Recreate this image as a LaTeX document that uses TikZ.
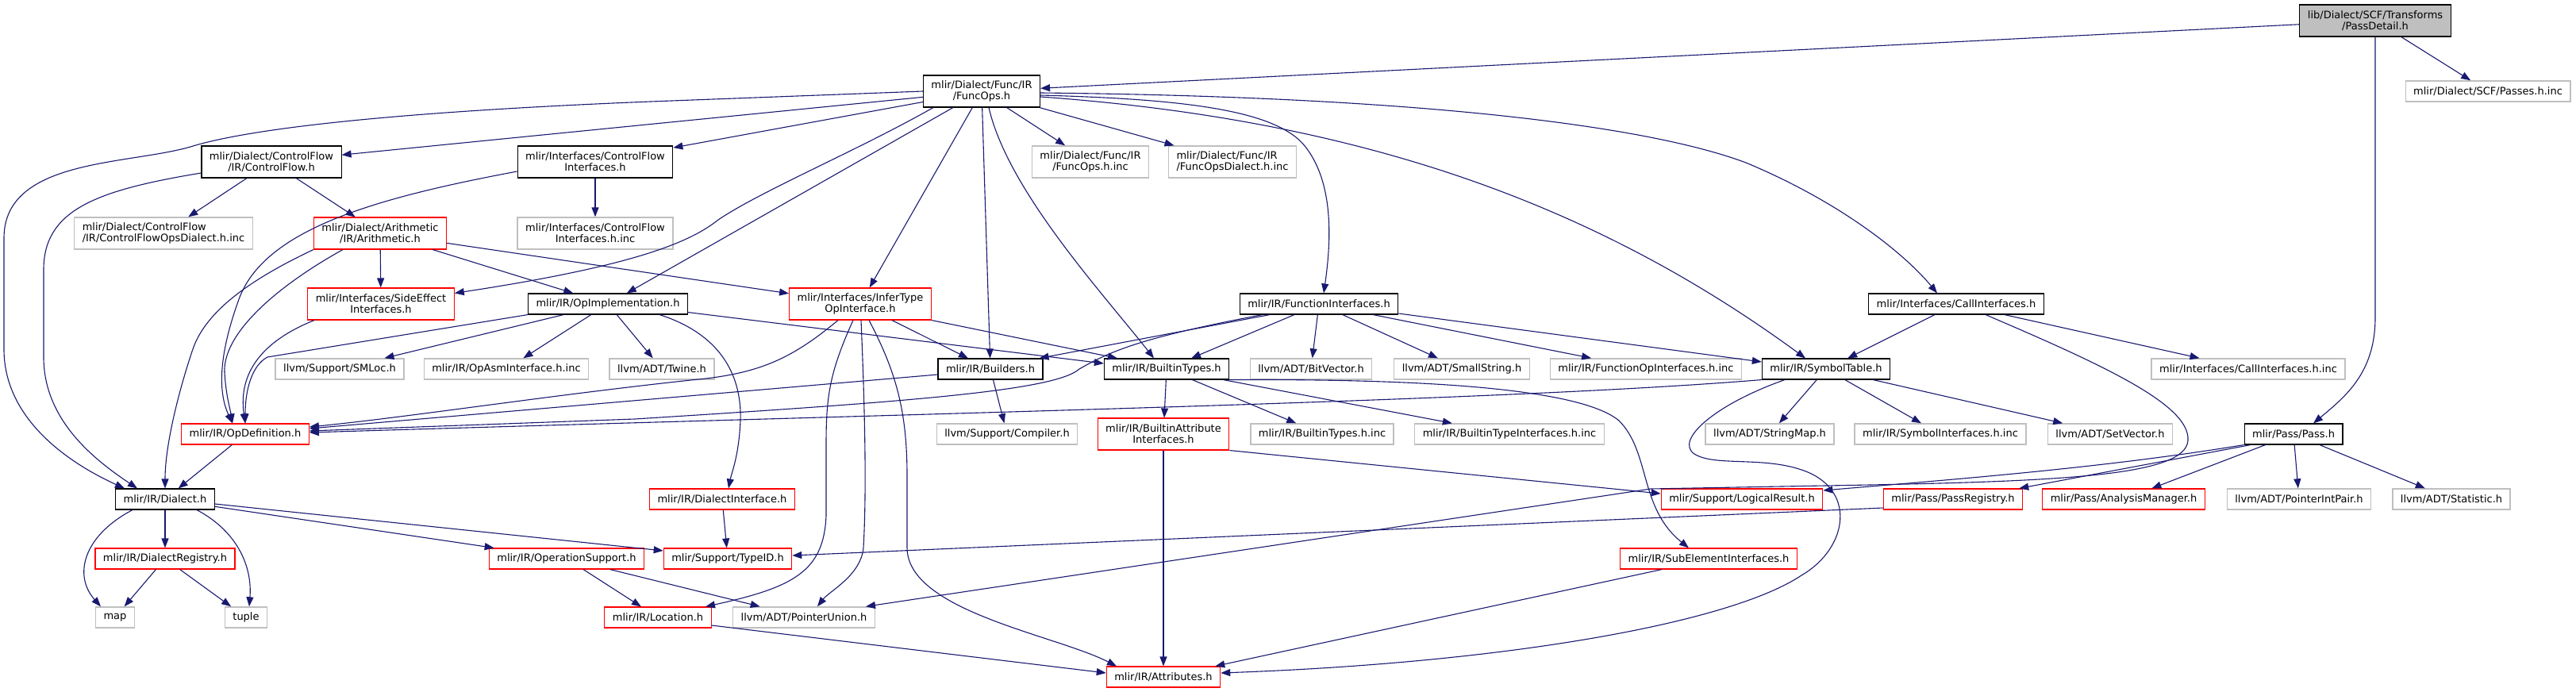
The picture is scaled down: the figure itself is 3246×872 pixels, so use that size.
\documentclass[tikz,border=0pt]{standalone}
\usepackage{fontspec}
\setmainfont{DejaVu Sans}
\usetikzlibrary{arrows.meta}
\definecolor{edgeblue}{RGB}{25,25,112}
\definecolor{extgray}{RGB}{191,191,191}
\definecolor{cutred}{RGB}{255,0,0}
\begin{document}
\begin{tikzpicture}[x=1pt,y=-1pt,font=\fontsize{13}{14}\selectfont,
  every node/.style={inner xsep=10pt,inner ysep=3pt,minimum height=26pt,align=center,line width=1.1pt},
  docbox/.style={draw=black},
  extbox/.style={draw=extgray,line width=1.4pt},
  cutbox/.style={draw=cutred},
  rootbox/.style={draw=black,fill=extgray},
  tall/.style={minimum height=40pt},
  incl/.style={draw=edgeblue,line width=1.1pt,-{Triangle[length=12pt,width=9pt]}}]
  \useasboundingbox (0,0) rectangle (3246,872);
  \node[rootbox,tall] (passdetail) at (2993,26) {lib/Dialect/SCF/Transforms\\/PassDetail.h};
  \node[docbox,tall] (funcops) at (1237,115) {mlir/Dialect/Func/IR\\/FuncOps.h};
  \node[extbox] (passesinc) at (3135,115) {mlir/Dialect/SCF/Passes.h.inc};
  \node[docbox,tall] (cflow) at (342,204) {mlir/Dialect/ControlFlow\\/IR/ControlFlow.h};
  \node[docbox,tall] (cfiface) at (750,204) {mlir/Interfaces/ControlFlow\\Interfaces.h};
  \node[extbox,tall] (funcopsinc) at (1374,204) {mlir/Dialect/Func/IR\\/FuncOps.h.inc};
  \node[extbox,tall,align=left] (funcdialinc) at (1553,204) {mlir/Dialect/Func/IR\\/FuncOpsDialect.h.inc};
  \node[extbox,tall,align=left] (cfdialinc) at (206,294) {mlir/Dialect/ControlFlow\\/IR/ControlFlowOpsDialect.h.inc};
  \node[cutbox,tall] (arith) at (479,294) {mlir/Dialect/Arithmetic\\/IR/Arithmetic.h};
  \node[extbox,tall] (cfifaceinc) at (750,294) {mlir/Interfaces/ControlFlow\\Interfaces.h.inc};
  \node[cutbox,tall] (sideeffect) at (480,383) {mlir/Interfaces/SideEffect\\Interfaces.h};
  \node[docbox] (opimpl) at (766,383) {mlir/IR/OpImplementation.h};
  \node[cutbox,tall] (infertype) at (1084,383) {mlir/Interfaces/InferType\\OpInterface.h};
  \node[docbox] (functionif) at (1662,383) {mlir/IR/FunctionInterfaces.h};
  \node[docbox] (callif) at (2465,383) {mlir/Interfaces/CallInterfaces.h};
  \node[extbox] (smloc) at (428,465) {llvm/Support/SMLoc.h};
  \node[extbox] (opasminc) at (638,465) {mlir/IR/OpAsmInterface.h.inc};
  \node[extbox] (twine) at (834,465) {llvm/ADT/Twine.h};
  \node[docbox] (builders) at (1248,465) {mlir/IR/Builders.h};
  \node[docbox] (builtintypes) at (1470,465) {mlir/IR/BuiltinTypes.h};
  \node[extbox] (bitvector) at (1652,465) {llvm/ADT/BitVector.h};
  \node[extbox] (smallstring) at (1842,465) {llvm/ADT/SmallString.h};
  \node[extbox] (funcopifinc) at (2074,465) {mlir/IR/FunctionOpInterfaces.h.inc};
  \node[docbox] (symboltable) at (2301,465) {mlir/IR/SymbolTable.h};
  \node[extbox] (callifinc) at (2833,465) {mlir/Interfaces/CallInterfaces.h.inc};
  \node[cutbox] (opdef) at (309,547) {mlir/IR/OpDefinition.h};
  \node[extbox] (compiler) at (1269,547) {llvm/Support/Compiler.h};
  \node[cutbox,tall] (battrif) at (1466,547) {mlir/IR/BuiltinAttribute\\Interfaces.h};
  \node[extbox] (btypesinc) at (1666,547) {mlir/IR/BuiltinTypes.h.inc};
  \node[extbox] (btypeifinc) at (1902,547) {mlir/IR/BuiltinTypeInterfaces.h.inc};
  \node[extbox] (stringmap) at (2230,547) {llvm/ADT/StringMap.h};
  \node[extbox] (symifinc) at (2445,547) {mlir/IR/SymbolInterfaces.h.inc};
  \node[extbox] (setvector) at (2659,547) {llvm/ADT/SetVector.h};
  \node[docbox] (pass) at (2890,547) {mlir/Pass/Pass.h};
  \node[docbox] (dialect) at (208,629) {mlir/IR/Dialect.h};
  \node[cutbox] (dialiface) at (910,629) {mlir/IR/DialectInterface.h};
  \node[cutbox] (logical) at (2195,629) {mlir/Support/LogicalResult.h};
  \node[cutbox] (passreg) at (2461,629) {mlir/Pass/PassRegistry.h};
  \node[cutbox] (analysis) at (2676,629) {mlir/Pass/AnalysisManager.h};
  \node[extbox] (ptrintpair) at (2897,629) {llvm/ADT/PointerIntPair.h};
  \node[extbox] (statistic) at (3089,629) {llvm/ADT/Statistic.h};
  \node[cutbox] (dialreg) at (208,704) {mlir/IR/DialectRegistry.h};
  \node[cutbox] (opsupport) at (714,704) {mlir/IR/OperationSupport.h};
  \node[cutbox] (typeid) at (917,704) {mlir/Support/TypeID.h};
  \node[cutbox] (subelement) at (2153,704) {mlir/IR/SubElementInterfaces.h};
  \node[extbox] (map) at (145,778) {map};
  \node[extbox] (tuple) at (310,778) {tuple};
  \node[cutbox] (location) at (829,778) {mlir/IR/Location.h};
  \node[extbox] (ptrunion) at (1013,778) {llvm/ADT/PointerUnion.h};
  \node[cutbox] (attributes) at (1466,853) {mlir/IR/Attributes.h};
  \draw[incl] (passdetail) -- (funcops);
  \draw[incl] (passdetail) -- (passesinc);
  \draw[incl] (passdetail.south) -- (2993,400) .. controls (2993,470) and (2955,500) .. ([xshift=25pt]pass.north);
  \draw[incl] (funcops.west) -- (820,128) .. controls (520,140) and (320,160) .. (240,185) .. controls (160,208) and (5,200) .. (5,300) -- (5,440) .. controls (5,530) and (90,585) .. ([xshift=-51pt]dialect.north);
  \draw[incl] (funcops) -- (cflow);
  \draw[incl] (funcops) -- (cfiface);
  \draw[incl] ([xshift=-61pt]funcops.south) .. controls (1080,190) and (960,240) .. (905,277) .. controls (870,305) and (800,335) .. ([yshift=-7pt]sideeffect.north east);
  \draw[incl] (funcops) -- (opimpl);
  \draw[incl] (funcops) -- (infertype);
  \draw[incl] (funcops) -- (builders);
  \draw[incl] ([xshift=9pt]funcops.south) .. controls (1270,240) and (1390,370) .. ([xshift=-16pt]builtintypes.north);
  \draw[incl] (funcops) -- (funcopsinc);
  \draw[incl] (funcops) -- (funcdialinc);
  \draw[incl] ([yshift=-2pt]funcops.east) .. controls (1800,122) and (2080,160) .. (2200,205) .. controls (2320,255) and (2400,320) .. ([xshift=-24pt]callif.north);
  \draw[incl] ([yshift=-5pt]funcops.east) .. controls (1500,125) and (1610,140) .. (1645,185) .. controls (1680,230) and (1678,300) .. ([xshift=6pt]functionif.north);
  \draw[incl] ([yshift=-7pt]funcops.east) .. controls (1700,150) and (2000,250) .. ([xshift=-26pt]symboltable.north);
  \draw[incl] (cflow) -- (cfdialinc);
  \draw[incl] (cflow) -- (arith);
  \draw[incl] ([yshift=-14pt]cflow.west) .. controls (120,240) and (55,265) .. (55,340) -- (55,450) .. controls (55,530) and (120,580) .. ([xshift=-35pt]dialect.north);
  \draw[incl] (cfiface) -- (cfifaceinc);
  \draw[incl] ([yshift=-12pt]cfiface.west) .. controls (470,250) and (330,290) .. (300,380) .. controls (275,450) and (275,495) .. ([xshift=-16pt]opdef.north);
  \draw[incl] (arith) -- (sideeffect);
  \draw[incl] (arith) -- (opimpl);
  \draw[incl] (arith) -- (infertype);
  \draw[incl] (arith.south west) .. controls (320,350) and (260,390) .. (243,440) .. controls (226,490) and (208,560) .. (dialect.north);
  \draw[incl] ([xshift=-47pt]arith.south) .. controls (350,360) and (280,420) .. (283,470) .. controls (285,500) and (290,515) .. ([xshift=-16pt]opdef.north);
  \draw[incl] ([xshift=-84pt]sideeffect.south) .. controls (330,430) and (300,470) .. (opdef.north);
  \draw[incl] (opimpl.south west) -- (337,450) .. controls (318,460) and (309,490) .. (opdef.north);
  \draw[incl] (opimpl) -- (smloc);
  \draw[incl] (opimpl) -- (opasminc);
  \draw[incl] (opimpl) -- (twine);
  \draw[incl] ([xshift=65pt]opimpl.south) .. controls (905,420) and (935,470) .. (933,530) .. controls (931,575) and (922,595) .. ([xshift=8pt]dialiface.north);
  \draw[incl] ([yshift=3pt]opimpl.south east) -- ([yshift=7pt]builtintypes.west);
  \draw[incl] ([xshift=-28pt]infertype.south) .. controls (1000,450) and (960,470) .. (880,478) .. controls (700,497) and (520,525) .. ([yshift=9pt]opdef.east);
  \draw[incl] ([xshift=-9pt]infertype.south) .. controls (1045,470) and (1041,500) .. (1041,560) -- (1041,650) .. controls (1038,720) and (1000,740) .. ([xshift=60pt]location.north);
  \draw[incl] ([xshift=1pt]infertype.south) .. controls (1090,520) and (1092,620) .. (1088,690) .. controls (1085,725) and (1045,745) .. ([xshift=17pt]ptrunion.north);
  \draw[incl] ([xshift=11pt]infertype.south) .. controls (1130,470) and (1143,520) .. (1143,600) -- (1143,690) .. controls (1143,770) and (1330,800) .. ([xshift=-59pt]attributes.north);
  \draw[incl] ([xshift=40pt]infertype.south) -- ([xshift=-28pt]builders.north);
  \draw[incl] (infertype.south east) -- ([xshift=-62pt]builtintypes.north);
  \draw[incl] ([xshift=-62pt]functionif.south) -- ([xshift=-5pt]builders.north east);
  \draw[incl] ([xshift=-31pt]functionif.south) -- ([xshift=31pt]builtintypes.north);
  \draw[incl] ([xshift=-71pt]functionif.south) .. controls (1440,425) and (1400,442) .. (1360,465) .. controls (1330,492) and (1150,506) .. (800,528) -- ([yshift=4pt]opdef.east);
  \draw[incl] (functionif) -- (bitvector);
  \draw[incl] (functionif) -- (smallstring);
  \draw[incl] (functionif) -- (funcopifinc);
  \draw[incl] ([yshift=-12pt]functionif.east) -- ([yshift=9pt]symboltable.west);
  \draw[incl] (callif) -- (symboltable);
  \draw[incl] (callif) -- (callifinc);
  \draw[incl] ([xshift=37pt]callif.south) .. controls (2650,460) and (2760,510) .. (2757,555) .. controls (2754,600) and (2600,607) .. (2300,612) -- (2080,616) -- ([xshift=78pt]ptrunion.north);
  \draw[incl] (builtintypes) -- (battrif);
  \draw[incl] (builtintypes) -- (btypesinc);
  \draw[incl] (builtintypes) -- (btypeifinc);
  \draw[incl] (builtintypes.south east) .. controls (1700,478) and (1980,480) .. (2040,530) .. controls (2080,570) and (2065,640) .. ([xshift=-25pt]subelement.north);
  \draw[incl] (battrif) -- (attributes);
  \draw[incl] (battrif.south east) -- ([yshift=7pt]logical.west);
  \draw[incl] ([yshift=-7pt]builders.west) -- ([yshift=7pt]opdef.east);
  \draw[incl] (builders) -- (compiler);
  \draw[incl] (symboltable.south west) .. controls (1900,505) and (1200,520) .. ([yshift=2pt]opdef.east);
  \draw[incl] ([xshift=-52pt]symboltable.south) .. controls (2160,510) and (2110,555) .. (2135,572) .. controls (2160,588) and (2220,575) .. (2270,592) .. controls (2340,615) and (2330,690) .. (2270,725) .. controls (2180,785) and (1900,835) .. ([yshift=5pt]attributes.east);
  \draw[incl] (symboltable) -- (stringmap);
  \draw[incl] (symboltable) -- (symifinc);
  \draw[incl] (symboltable) -- (setvector);
  \draw[incl] (opdef) -- (dialect);
  \draw[incl] ([xshift=-41pt]dialect.south) .. controls (105,675) and (92,725) .. ([xshift=-18pt]map.north);
  \draw[incl] (dialect) -- (dialreg);
  \draw[incl] ([xshift=40pt]dialect.south) .. controls (300,670) and (318,715) .. ([xshift=4pt]tuple.north);
  \draw[incl] (dialect) -- (opsupport);
  \draw[incl] ([yshift=-6pt]dialect.east) -- ([yshift=10pt]typeid.west);
  \draw[incl] (dialreg) -- (map);
  \draw[incl] (dialreg) -- (tuple);
  \draw[incl] (opsupport) -- (location);
  \draw[incl] (opsupport) -- (ptrunion);
  \draw[incl] (dialiface) -- (typeid);
  \draw[incl] ([yshift=-10pt]location.east) -- ([yshift=5pt]attributes.west);
  \draw[incl] ([xshift=-59pt]subelement.south) -- ([xshift=-7pt]attributes.north east);
  \draw[incl] ([xshift=-54pt]pass.south) -- ([xshift=-5pt]passreg.north east);
  \draw[incl] (pass.south west) .. controls (2650,590) and (2450,605) .. ([yshift=11pt]logical.east);
  \draw[incl] (pass) -- (analysis);
  \draw[incl] (pass) -- (ptrintpair);
  \draw[incl] (pass) -- (statistic);
  \draw[incl] ([yshift=-11pt]passreg.west) -- ([yshift=4pt]typeid.east);
\end{tikzpicture}
\end{document}
